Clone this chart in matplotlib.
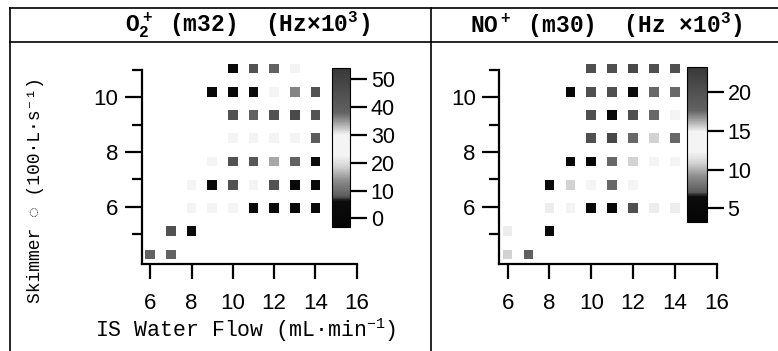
import numpy as np
import matplotlib
matplotlib.use("Agg")
import matplotlib.pyplot as plt
from matplotlib.colors import LinearSegmentedColormap, Normalize
from matplotlib.lines import Line2D
import matplotlib.cm as cm

# Skimmer rows (100 L/s) and IS water flow columns (mL/min)
# --- O2+ (m32), Hz x10^3 ---
o2_flow = [6, 7,
           7, 8,
           8, 9, 10, 11, 12, 13, 14,
           8, 9, 10, 11, 12, 13, 14,
           9, 10, 11, 12, 13, 14,
           10, 11, 12, 13, 14,
           10, 11, 12, 13, 14,
           9, 10, 11, 12, 13, 14,
           10, 11, 12, 13]
o2_skim = [4.25, 4.25,
           5.1, 5.1,
           5.95, 5.95, 5.95, 5.95, 5.95, 5.95, 5.95,
           6.8, 6.8, 6.8, 6.8, 6.8, 6.8, 6.8,
           7.65, 7.65, 7.65, 7.65, 7.65, 7.65,
           8.5, 8.5, 8.5, 8.5, 8.5,
           9.35, 9.35, 9.35, 9.35, 9.35,
           10.2, 10.2, 10.2, 10.2, 10.2, 10.2,
           11.05, 11.05, 11.05, 11.05]
o2_rate = [38, 38,
           44, 5,
           25, 24, 25, 2, 2, 2, 2,
           25, 2, 44, 24, 44, 2, 2,
           25, 44, 42, 34, 38, 5,
           26, 25, 26, 24, 40,
           44, 38, 44, 47, 44,
           2, 2, 5, 25, 36, 44,
           2, 44, 38, 30]

# --- NO+ (m30), Hz x10^3 ---
no_flow = [6, 7,
           6, 8,
           8, 9, 10, 11, 12, 13, 14,
           8, 9, 10, 11, 12,
           9, 10, 11, 12, 13, 14,
           10, 11, 12, 13, 14,
           10, 11, 12, 13, 14,
           9, 10, 11, 12, 13, 14,
           10, 11, 12, 13, 14]
no_skim = [4.25, 4.25,
           5.1, 5.1,
           5.95, 5.95, 5.95, 5.95, 5.95, 5.95, 5.95,
           6.8, 6.8, 6.8, 6.8, 6.8,
           7.65, 7.65, 7.65, 7.65, 7.65, 7.65,
           8.5, 8.5, 8.5, 8.5, 8.5,
           9.35, 9.35, 9.35, 9.35, 9.35,
           10.2, 10.2, 10.2, 10.2, 10.2, 10.2,
           11.05, 11.05, 11.05, 11.05, 11.05]
no_rate = [15.5, 18,
           12, 4.5,
           12, 12.5, 4.5, 4.5, 20, 12, 12,
           6, 15.5, 12.5, 17.5, 12.5,
           4.5, 4.5, 17.5, 15.5, 12.5, 12.5,
           20, 21, 17.5, 15.5, 17.5,
           20, 4.5, 20, 17.5, 14.5,
           4.5, 20, 20, 6, 17.5, 17.5,
           20, 20, 21, 20, 20]

o2_ticks = [0, 10, 20, 30, 40, 50]
no_ticks = [5, 10, 15, 20]

# black -> white -> dark grey, like the scanned colour bars
cmap = LinearSegmentedColormap.from_list("scan", [
    (0.00, "#050505"), (0.16, "#0c0c0c"), (0.19, "#5a5a5a"),
    (0.29, "#8c8c8c"), (0.38, "#d4d4d4"), (0.45, "#f4f4f4"),
    (0.58, "#f4f4f4"), (0.65, "#a8a8a8"), (0.72, "#626262"),
    (1.00, "#383838")])

plt.rcParams["font.family"] = ["Liberation Sans", "DejaVu Sans"]
plt.rcParams["mathtext.default"] = "regular"
mono = ["Liberation Mono", "DejaVu Sans Mono", "DejaVu Sans"]

W, H = 778, 351
fig = plt.figure(figsize=(W / 100, H / 100), dpi=100)


def box(x0, y0, x1, y1):
    # pixel box (top-left origin) -> figure fraction rect
    return [x0 / W, 1 - y1 / H, (x1 - x0) / W, (y1 - y0) / H]


def panel(rect, cbrect, fx, fy, val, vmin, vmax, ticks):
    ax = fig.add_axes(rect)
    norm = Normalize(vmin, vmax)
    ax.scatter(fx, fy, c=val, cmap=cmap, norm=norm, marker="s", s=48,
               linewidths=0, clip_on=False, zorder=3)
    ax.set_xlim(5.6, 16)
    ax.set_ylim(3.9, 11)
    for s in ["top", "right"]:
        ax.spines[s].set_visible(False)
    for s in ["left", "bottom"]:
        ax.spines[s].set_linewidth(1.6)
    ax.set_xticks([6, 8, 10, 12, 14, 16])
    ax.set_yticks([6, 8, 10])
    ax.set_yticks([5, 7, 9, 11], minor=True)
    ax.tick_params(axis="x", length=11, width=1.6, pad=10, labelsize=16)
    ax.tick_params(axis="y", which="major", length=12, width=1.6, pad=5, labelsize=16)
    ax.tick_params(axis="y", which="minor", length=7, width=1.6)
    ax.patch.set_alpha(0)

    cax = fig.add_axes(cbrect)
    sm = cm.ScalarMappable(norm=norm, cmap=cmap)
    cb = fig.colorbar(sm, cax=cax, ticks=ticks)
    cb.outline.set_linewidth(0.8)
    cax.tick_params(length=12, width=1.6, pad=3, labelsize=15.5)
    return ax


panel(box(142, 70, 356.7, 264), box(331.7, 68.3, 350, 226.7),
      o2_flow, o2_skim, o2_rate, -3, 54, o2_ticks)
panel(box(499.3, 70, 716.7, 264), box(686.7, 66.7, 706.7, 221.7),
      no_flow, no_skim, no_rate, 3.3, 23.2, no_ticks)

# table-like frame of the scanned figure
frame = dict(color="black", linewidth=1.2, transform=fig.transFigure)
fig.add_artist(Line2D([10 / W, 1], [1 - 8 / H] * 2, **frame))
fig.add_artist(Line2D([10 / W, 1], [1 - 42 / H] * 2, **frame))
fig.add_artist(Line2D([10 / W] * 2, [0, 1 - 8 / H], **frame))
fig.add_artist(Line2D([431 / W] * 2, [0, 1 - 8 / H], **frame))

fig.text(247 / W, 1 - 25 / H, "O$_2^+$ (m32)  (Hz×10$^3$)", family=mono,
         weight="bold", fontsize=16.5, ha="center", va="center")
fig.text(606 / W, 1 - 25 / H, "NO$^+$ (m30)  (Hz ×10$^3$)", family=mono,
         weight="bold", fontsize=16.5, ha="center", va="center")
fig.text(246 / W, 1 - 330 / H, "IS Water Flow (mL·min$^{-1}$)", family=mono,
         fontsize=15.5, ha="center", va="center")
fig.text(36 / W, 1 - 190 / H, "Skimmer ◌ (100·L·s⁻¹)", family=mono,
         fontsize=13, ha="center", va="center", rotation=90)

fig.savefig("out.png", dpi=100)
